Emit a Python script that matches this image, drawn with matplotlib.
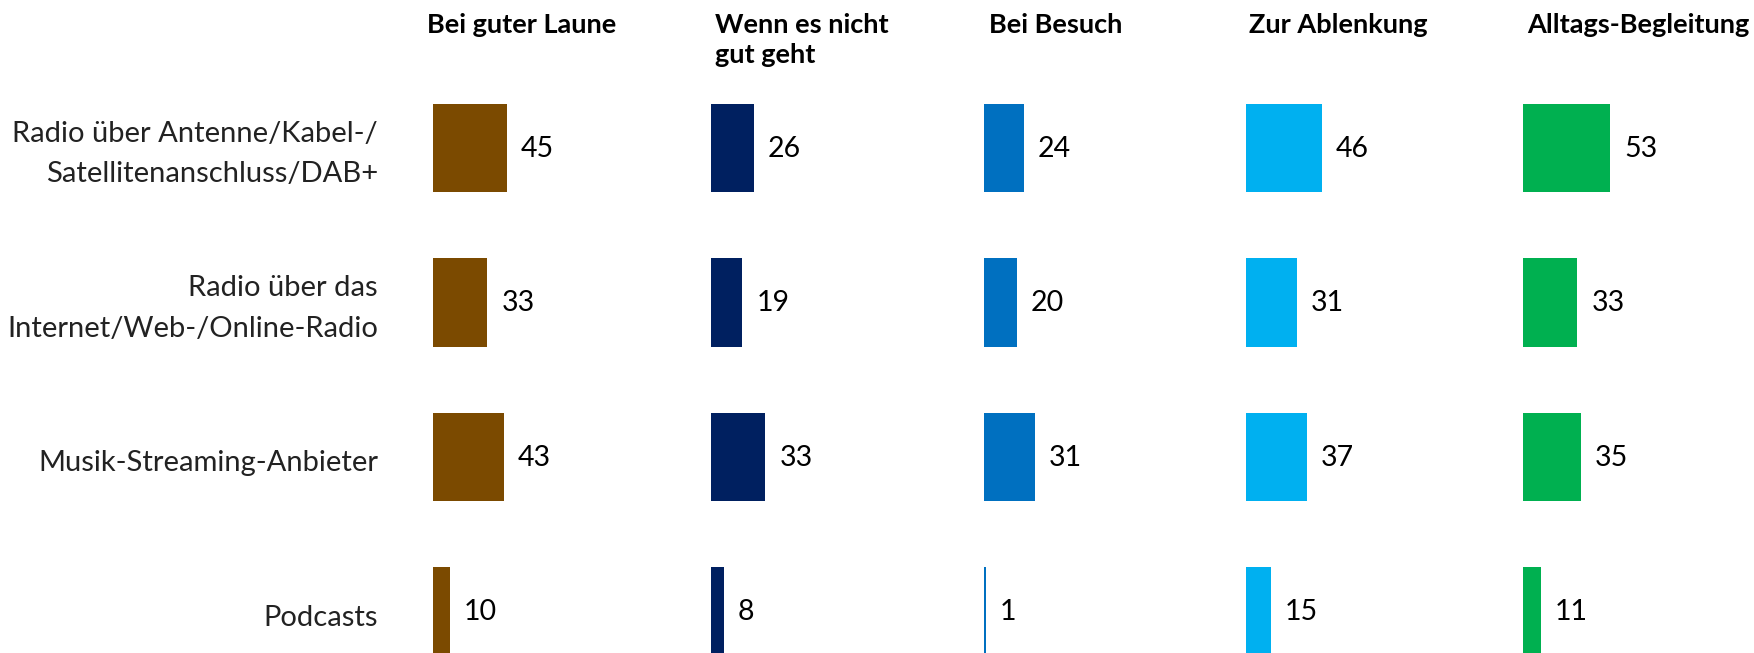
import matplotlib.pyplot as plt

plt.rcParams['font.family'] = ['Lato', 'DejaVu Sans']

# data
rows = ['Radio über Antenne/Kabel-/\nSatellitenanschluss/DAB+',
        'Radio über das\nInternet/Web-/Online-Radio',
        'Musik-Streaming-Anbieter',
        'Podcasts']
groups = ['Bei guter Laune', 'Wenn es nicht\ngut geht', 'Bei Besuch',
          'Zur Ablenkung', 'Alltags-Begleitung']
gute_laune = [45, 33, 43, 10]
nicht_gut = [26, 19, 33, 8]
besuch = [24, 20, 31, 1]
ablenkung = [46, 31, 37, 15]
alltag = [53, 33, 35, 11]
series = [gute_laune, nicht_gut, besuch, ablenkung, alltag]
colors = ['#7B4A00', '#002060', '#0070C0', '#00B0F0', '#00B050']

# layout (pixels of the 1754x653 figure)
W, H = 1754, 653
px_per_unit = 1.65
col_left = [433, 711, 984, 1246, 1523]
head_dx = [-6, 4, 5, 3, 4]
col_w = 230
row_y0, row_step = 148, 154.5

fig = plt.figure(figsize=(W / 100, H / 100), dpi=100)

ylo = -row_y0 / row_step
yhi = (H - row_y0) / row_step

for k, vals in enumerate(series):
    ax = fig.add_axes([col_left[k] / W, 0, col_w / W, 1])
    ax.barh(range(len(rows)), vals, height=0.57, color=colors[k])
    ax.set_xlim(0, col_w / px_per_unit)
    ax.set_ylim(yhi, ylo)
    ax.axis('off')
    for i, v in enumerate(vals):
        ax.annotate(str(v), (v, i), xytext=(10, -0.5), textcoords='offset points',
                    va='center', ha='left', fontsize=20.5, color='black')
    fig.text((col_left[k] + head_dx[k]) / W, 1 - 13 / H, groups[k],
             ha='left', va='top', fontsize=19.5, fontweight='bold', linespacing=1.3)

for i, lab in enumerate(rows):
    fig.text(378 / W, 1 - (row_y0 + row_step * i + 6) / H, lab,
             ha='right', va='center', fontsize=21, color='#222222', linespacing=1.7)

fig.savefig('out.png', dpi=100)
